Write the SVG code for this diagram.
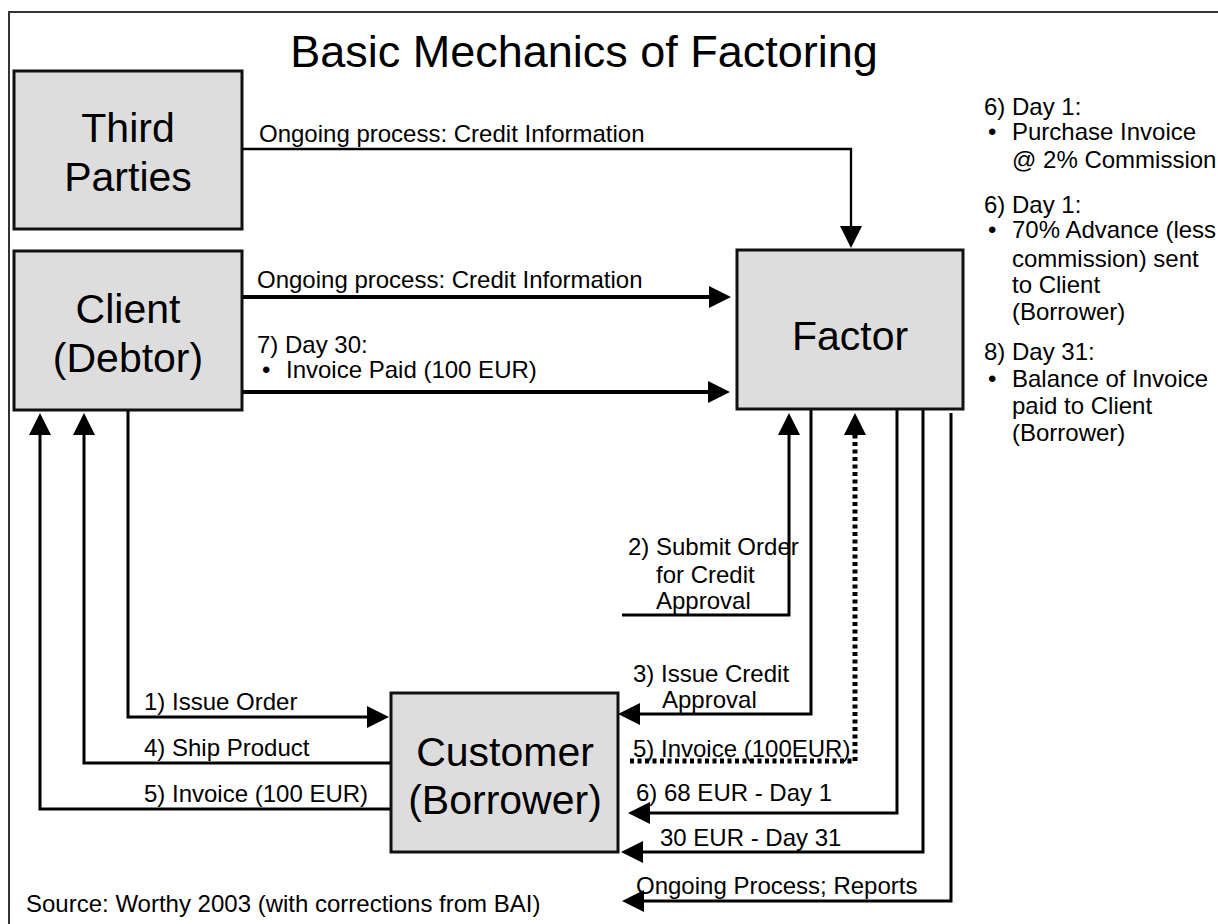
<svg xmlns="http://www.w3.org/2000/svg" width="1218" height="924" viewBox="0 0 1218 924">
<style>
text{font-family:"Liberation Sans",Arial,sans-serif;fill:#000}
.lbl{font-size:24px}
.node{font-size:41px;text-anchor:middle}
.box{fill:#dddddd;stroke:#111;stroke-width:3}
.c{fill:none;stroke:#000;stroke-width:3}
.thick{stroke-width:4}
.thin{stroke-width:2.3}
.dot{stroke-width:5;stroke-dasharray:4 3.5}
</style>
<defs>
<marker id="arr" markerUnits="userSpaceOnUse" markerWidth="22" markerHeight="22" refX="6" refY="11" orient="auto" overflow="visible">
<path d="M0,0 L22,11 L0,22 z" fill="#000" stroke="none"/>
</marker>
</defs>
<rect width="1218" height="924" fill="#fff"/>
<path d="M9,1000 V12 H1300" fill="none" stroke="#333" stroke-width="2"/>
<text x="584" y="67" font-size="45" text-anchor="middle">Basic Mechanics of Factoring</text>

<g id="connectors">
<path class="c thin" d="M242,149 H851 V232" marker-end="url(#arr)"/>
<path class="c thick" d="M242,297 H715" marker-end="url(#arr)"/>
<path class="c thick" d="M242,392 H714" marker-end="url(#arr)"/>
<path class="c" d="M128,410 V717 H373" marker-end="url(#arr)"/>
<path class="c" d="M391,763 H84 V429" marker-end="url(#arr)"/>
<path class="c" d="M391,809 H40 V429" marker-end="url(#arr)"/>
<path class="c" d="M622,615 H789 V429" marker-end="url(#arr)"/>
<path class="c" d="M811,409 V714 H634" marker-end="url(#arr)"/>
<path class="c dot" d="M630,761 H855 V429" marker-end="url(#arr)"/>
<path class="c" d="M897,409 V813 H644" marker-end="url(#arr)"/>
<path class="c" d="M923,409 V852 H637" marker-end="url(#arr)"/>
<path class="c" d="M951,413 V901 H638" marker-end="url(#arr)"/>

<text class="lbl" x="259" y="142">Ongoing process: Credit Information</text>
<text class="lbl" x="257" y="288">Ongoing process: Credit Information</text>
<text class="lbl" x="257" y="353">7) Day 30:</text>
<text class="lbl" x="262" y="378">•</text>
<text class="lbl" x="286" y="378">Invoice Paid (100 EUR)</text>
<text class="lbl" x="628" y="555">2) Submit Order</text>
<text class="lbl" x="656" y="583">for Credit</text>
<text class="lbl" x="656" y="609">Approval</text>
<text class="lbl" x="633" y="682">3) Issue Credit</text>
<text class="lbl" x="662" y="708">Approval</text>
<text class="lbl" x="633" y="757">5) Invoice (100EUR)</text>
<text class="lbl" x="636" y="801">6) 68 EUR - Day 1</text>
<text class="lbl" x="660" y="846">30 EUR - Day 31</text>
<text class="lbl" x="636" y="894">Ongoing Process; Reports</text>
<text class="lbl" x="144" y="710">1) Issue Order</text>
<text class="lbl" x="144" y="756">4) Ship Product</text>
<text class="lbl" x="144" y="802">5) Invoice (100 EUR)</text>
</g>

<g id="third-parties">
<rect class="box" x="14" y="71" width="228" height="158"/>
<text class="node" x="128" y="142">Third</text>
<text class="node" x="128" y="191">Parties</text>
</g>
<g id="client">
<rect class="box" x="14" y="251" width="228" height="159"/>
<text class="node" x="128" y="323">Client</text>
<text class="node" x="128" y="372">(Debtor)</text>
</g>
<g id="factor">
<rect class="box" x="737" y="250" width="226" height="159"/>
<text class="node" x="850" y="350">Factor</text>
</g>
<g id="customer">
<rect class="box" x="391" y="693" width="227" height="159"/>
<text class="node" x="505" y="766">Customer</text>
<text class="node" x="505" y="814">(Borrower)</text>
</g>

<g id="notes">
<text class="lbl" x="984" y="115">6) Day 1:</text>
<text class="lbl" x="988" y="140">•</text>
<text class="lbl" x="1012" y="140">Purchase Invoice</text>
<text class="lbl" x="1012" y="168">@ 2% Commission</text>
<text class="lbl" x="984" y="213">6) Day 1:</text>
<text class="lbl" x="988" y="238">•</text>
<text class="lbl" x="1012" y="238">70% Advance (less</text>
<text class="lbl" x="1012" y="267">commission) sent</text>
<text class="lbl" x="1012" y="293">to Client</text>
<text class="lbl" x="1012" y="320">(Borrower)</text>
<text class="lbl" x="984" y="360">8) Day 31:</text>
<text class="lbl" x="988" y="387">•</text>
<text class="lbl" x="1012" y="387">Balance of Invoice</text>
<text class="lbl" x="1012" y="414">paid to Client</text>
<text class="lbl" x="1012" y="441">(Borrower)</text>
</g>
<text class="lbl" x="26" y="912">Source: Worthy 2003 (with corrections from BAI)</text>
</svg>
